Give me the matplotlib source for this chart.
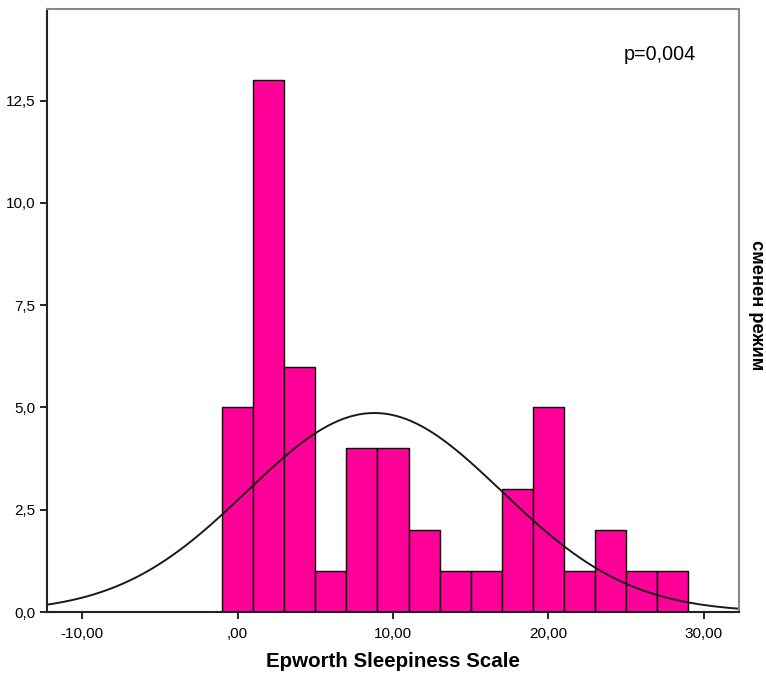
import numpy as np
import matplotlib.pyplot as plt
from matplotlib.ticker import FuncFormatter

# histogram bins (width 2) and counts
bin_edges = [-1, 1, 3, 5, 7, 9, 11, 13, 15, 17, 19, 21, 23, 25, 27, 29]
counts = [5, 13, 6, 1, 4, 4, 2, 1, 1, 3, 5, 1, 2, 1, 1]
# fitted normal curve parameters
mean = 8.8
sd = 8.2
n_total = sum(counts)
bin_width = 2

plt.rcParams['font.family'] = ['Liberation Sans', 'DejaVu Sans']

fig = plt.figure(figsize=(7.66, 6.75), dpi=100)
ax = fig.add_axes([0.0617, 0.0933, 0.9034, 0.8927])

ax.bar(bin_edges[:-1], counts, width=np.diff(bin_edges), align='edge',
       color='#ff0099', edgecolor='black', linewidth=1.0)

xs = np.linspace(-12.3, 32.3, 400)
ys = n_total * bin_width / (sd * np.sqrt(2 * np.pi)) * np.exp(-0.5 * ((xs - mean) / sd) ** 2)
ax.plot(xs, ys, color='#1a1a1a', linewidth=1.4)

ax.set_xlim(-12.25, 32.28)
ax.set_ylim(0, 14.73)
ax.set_xticks([-10, 0, 10, 20, 30])
ax.set_yticks([0, 2.5, 5, 7.5, 10, 12.5])

def xfmt(v, pos):
    s = '%.2f' % v
    if s.startswith('0'):
        s = s[1:]
    return s.replace('.', ',')

def yfmt(v, pos):
    return ('%.1f' % v).replace('.', ',')

ax.xaxis.set_major_formatter(FuncFormatter(xfmt))
ax.yaxis.set_major_formatter(FuncFormatter(yfmt))
ax.tick_params(direction='out', length=5, width=1.2, labelsize=11, colors='black')
ax.tick_params(axis='x', pad=6)

for side in ['left', 'bottom']:
    ax.spines[side].set_linewidth(1.5)
    ax.spines[side].set_color('#222222')
for side in ['top', 'right']:
    ax.spines[side].set_linewidth(1.5)
    ax.spines[side].set_color('#888888')

ax.set_xlabel('Epworth Sleepiness Scale', fontsize=14.8, fontweight='bold', labelpad=8)
ax.text(1.012, 0.51, 'сменен режим', transform=ax.transAxes, rotation=-90,
        fontsize=13.2, fontweight='bold', ha='left', va='center')
ax.text(0.833, 0.925, 'p=0,004', transform=ax.transAxes, fontsize=14.2,
        ha='left', va='center')

fig.savefig('out.png', dpi=100)
